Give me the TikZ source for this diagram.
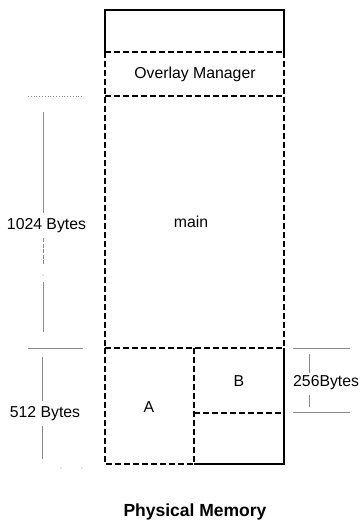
\documentclass[tikz,border=0pt]{standalone}
\usepackage{fontspec}
\setmainfont{Liberation Sans}
\begin{document}
\begin{tikzpicture}[x=1pt,y=-1pt,
  box/.style={line width=1.8pt,black},
  dsh/.style={line width=1.8pt,black,dash pattern=on 6pt off 3pt},
  dim/.style={line width=0.8pt,black!45},
  lbl/.style={font=\fontsize{15.8}{16}\selectfont,text=black,inner sep=0pt},
]
\useasboundingbox (0,0) rectangle (360,524);
% coordinates of the memory column
\coordinate (tl) at (105,10);
\coordinate (tr) at (284,10);
\coordinate (ol) at (105,52);
\coordinate (or) at (284,52);
\coordinate (ml) at (105,96);
\coordinate (mr) at (284,96);
\coordinate (bl) at (105,348);
\coordinate (br) at (284,348);
\coordinate (dl) at (105,464);
\coordinate (dr) at (284,464);
\coordinate (vt) at (194,348);
\coordinate (vb) at (194,464);
\coordinate (bm) at (194,413);
\coordinate (bmr) at (284,413);
% solid top part
\draw[box] (ol) -- (tl) -- (tr) -- (or);
% dashed overlay and main parts
\draw[dsh] (ol) -- (or);
\draw[dsh] (ml) -- (mr);
\draw[dsh] (ol) -- (bl);
\draw[dsh] (or) -- (br);
\draw[dsh] (bl) -- (br);
% bottom part
\draw[dsh] (bl) -- (dl) -- (vb);
\draw[box] (vb) -- (dr) -- (br);
\draw[dsh] (vt) -- (vb);
\draw[dsh] (bm) -- (bmr);
% labels
\node[lbl] (om) at (195,74) {Overlay Manager};
\node[lbl] (mn) at (191,222) {main};
\node[lbl] (na) at (149,407) {A};
\node[lbl] (nb) at (239,381) {B};
\node[lbl] (k1) at (46.5,226) {1024 Bytes};
\node[lbl] (k5) at (45,414) {512 Bytes};
\node[lbl,anchor=west] (k2) at (293,383) {256Bytes};
\node[font=\fontsize{17.5}{18}\selectfont\bfseries,inner sep=0pt,text=black] (pm) at (195,512) {Physical Memory};
% left dimension lines
\coordinate (a1) at (28,96);  \coordinate (a2) at (83,96);
\draw[dim,dotted] (a1) -- (a2);
\coordinate (a3) at (43,112); \coordinate (a4) at (43,213);
\draw[dim] (a3) -- (a4);
\coordinate (a5) at (43,238); \coordinate (a6) at (43,265);
\draw[dim,dash pattern=on 4pt off 1.5pt] (a5) -- (a6);
\fill[black!45] (43,275) circle (0.6pt);
\coordinate (a7) at (43,282); \coordinate (a8) at (43,332);
\draw[dim] (a7) -- (a8);
\coordinate (b1) at (28,348); \coordinate (b2) at (83,348);
\draw[dim] (b1) -- (b2);
\coordinate (b3) at (42,357); \coordinate (b4) at (42,401);
\draw[dim] (b3) -- (b4);
\coordinate (b5) at (42,426); \coordinate (b6) at (42,459);
\draw[dim] (b5) -- (b6);
\fill[black!40] (61,468) circle (0.6pt);
\fill[black!40] (82,468) circle (0.6pt);
% right dimension lines
\coordinate (c1) at (293,348); \coordinate (c2) at (350,348);
\draw[dim] (c1) -- (c2);
\coordinate (c3) at (293,412); \coordinate (c4) at (350,412);
\draw[dim] (c3) -- (c4);
\coordinate (c5) at (309,354); \coordinate (c6) at (309,373);
\draw[dim] (c5) -- (c6);
\coordinate (c7) at (309,395); \coordinate (c8) at (309,407);
\draw[dim] (c7) -- (c8);
\end{tikzpicture}
\end{document}
